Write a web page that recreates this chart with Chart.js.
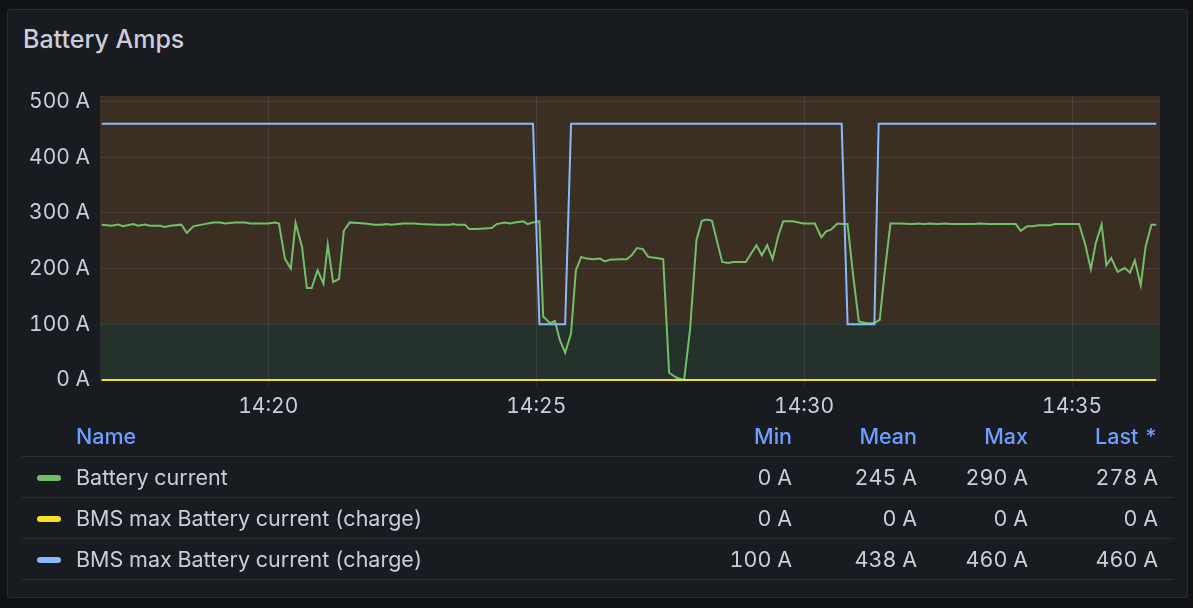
<!DOCTYPE html>
<html>
<head>
<meta charset="utf-8">
<script src="https://cdn.jsdelivr.net/npm/chart.js@4"></script>
<style>
  html, body { margin: 0; padding: 0; background: #111217; }
  body { width: 1193px; height: 608px; position: relative; overflow: hidden; font-family: Inter, "Open Sans", sans-serif; font-feature-settings: "tnum"; }
  .panel { position: absolute; left: 7px; top: 9px; width: 1181px; height: 589px; background: #181b1f; border: 1px solid #2a2d33; border-radius: 3px; box-sizing: border-box; }
  .title { position: absolute; left: 23px; top: 27px; font-size: 25px; line-height: 1; font-weight: 500; color: #ccccdc; font-feature-settings: normal; }
  #chartWrap { position: absolute; left: 0; top: 0; width: 1193px; height: 420px; }
  table.legend { position: absolute; left: 22px; top: 415px; width: 1152px; border-collapse: collapse; table-layout: fixed; font-size: 21.5px; color: #ccccdc; }
  table.legend th { color: #6e9fff; font-weight: 500; height: 41px; text-align: right; padding: 0 16px 0 0; border-bottom: 1px solid #2c3036; }
  table.legend th.name { text-align: left; padding-left: 54px; }
  table.legend td { height: 40px; text-align: right; padding: 0 16px 0 0; border-bottom: 1px solid #2c3036; white-space: nowrap; }
  table.legend td.name { text-align: left; padding-left: 15px; }
  .swatch { display: inline-block; width: 24px; height: 6px; border-radius: 3px; vertical-align: middle; margin-right: 15px; position: relative; top: -1px; }
</style>
</head>
<body>
<div class="panel"></div>
<div class="title">Battery Amps</div>
<div id="chartWrap"><canvas id="ampsChart"></canvas></div>
<table class="legend" id="legendTable">
  <colgroup><col style="width:658px"><col style="width:128px"><col style="width:125px"><col style="width:111px"><col style="width:130px"></colgroup>
  <thead><tr><th class="name">Name</th><th>Min</th><th>Mean</th><th>Max</th><th>Last *</th></tr></thead>
  <tbody></tbody>
</table>
<script>
// time axis in minutes past 14:00
const xMin = 16.86;
const xMax = 36.64;
const timeTicks = [20, 25, 30, 35];
const ampTicks = [0, 100, 200, 300, 400, 500];
const thresholdAmps = 100;

// Battery current
const currentMinutes = [16.89,17.08,17.20,17.29,17.48,17.57,17.70,17.79,17.98,18.07,
  18.17,18.38,18.48,18.60,18.76,18.97,19.10,19.19,19.38,19.57,
  19.66,20.00,20.12,20.20,20.31,20.42,20.51,20.63,20.72,20.81,
  20.92,21.03,21.11,21.21,21.32,21.41,21.52,21.80,21.99,22.12,
  22.21,22.30,22.52,22.71,22.83,23.14,23.39,23.45,23.51,23.67,
  23.75,23.89,24.17,24.26,24.42,24.51,24.60,24.76,24.84,24.94,
  25.06,25.13,25.26,25.35,25.44,25.54,25.65,25.74,25.84,25.94,
  26.06,26.19,26.28,26.37,26.56,26.69,26.78,26.88,26.99,27.09,
  27.25,27.37,27.48,27.62,27.76,27.87,27.99,28.09,28.18,28.28,
  28.47,28.58,28.68,28.91,29.11,29.21,29.31,29.41,29.52,29.61,
  29.79,29.98,30.20,30.32,30.41,30.50,30.62,30.72,30.81,30.91,
  31.02,31.16,31.30,31.41,31.50,31.61,31.79,32.02,32.13,32.23,
  32.35,32.47,32.64,32.75,33.15,33.29,33.43,33.95,34.04,34.16,
  34.27,34.37,34.59,34.68,35.13,35.24,35.35,35.44,35.55,35.64,
  35.73,35.85,35.98,36.08,36.17,36.28,36.37,36.48,36.57];
const currentAmps = [279,277,279,276,280,277,279,277,277,275,
  277,279,264,276,279,283,283,281,283,283,
  281,281,283,281,218,200,282,239,165,165,
  197,173,243,176,181,268,283,281,279,279,
  280,279,281,281,280,279,279,280,279,279,
  271,271,273,280,283,281,283,285,280,283,
  285,114,102,106,72,49,84,197,221,218,
  217,218,213,216,217,217,224,237,235,221,
  219,217,13,4,0,90,251,286,288,286,
  212,210,212,212,242,224,242,217,260,285,
  285,281,281,256,267,270,281,280,280,191,
  105,102,102,108,191,281,281,280,281,280,
  281,280,281,280,280,281,280,280,268,276,
  276,278,278,280,280,245,199,245,279,206,
  219,194,201,193,215,170,239,279,279];

// BMS max charge current (yellow, zero)
const zeroMinutes = [16.89, 36.57];
const zeroAmps = [0, 0];

// BMS max charge current (blue)
const limitMinutes = [16.89, 24.94, 25.06, 25.54, 25.65, 30.70, 30.81, 31.31, 31.39, 36.57];
const limitAmps = [460, 460, 100, 100, 460, 460, 100, 100, 460, 460];

// legend table
const legendNames = ['Battery current', 'BMS max Battery current (charge)', 'BMS max Battery current (charge)'];
const legendColors = ['#73BF69', '#FADE2A', '#8AB8FF'];
const legendMin = ['0 A', '0 A', '100 A'];
const legendMean = ['245 A', '0 A', '438 A'];
const legendMax = ['290 A', '0 A', '460 A'];
const legendLast = ['278 A', '0 A', '460 A'];

function toPoints(xs, ys) {
    return xs.map((x, i) => ({x: x, y: ys[i]}));
}

// Threshold regions behind the grid
const thresholdFill = {
    id: 'thresholdFill',
    beforeDraw(chart) {
        const {ctx, chartArea} = chart;
        const yScale = chart.scales.y;
        const yT = yScale.getPixelForValue(thresholdAmps);
        ctx.save();
        ctx.fillStyle = '#3b2f24';
        ctx.fillRect(chartArea.left, chartArea.top, chartArea.right - chartArea.left, yT - chartArea.top);
        ctx.fillStyle = '#25322b';
        ctx.fillRect(chartArea.left, yT, chartArea.right - chartArea.left, chartArea.bottom - yT);
        ctx.restore();
    }
};

const gridColor = 'rgba(204, 204, 220, 0.1)';

new Chart(document.getElementById('ampsChart'), {
    type: 'line',
    data: {
        datasets: [
            {
                label: legendNames[0],
                data: toPoints(currentMinutes, currentAmps),
                borderColor: legendColors[0],
                borderWidth: 2,
                pointRadius: 0,
                tension: 0,
                clip: 4,
                order: 3
            },
            {
                label: legendNames[1],
                data: toPoints(zeroMinutes, zeroAmps),
                borderColor: legendColors[1],
                borderWidth: 2,
                pointRadius: 0,
                clip: 4,
                order: 2
            },
            {
                label: legendNames[2],
                data: toPoints(limitMinutes, limitAmps),
                borderColor: legendColors[2],
                borderWidth: 2,
                pointRadius: 0,
                clip: 4,
                order: 1
            }
        ]
    },
    options: {
        responsive: true,
        maintainAspectRatio: false,
        animation: false,
        layout: {padding: {left: 0, top: 96, right: 33, bottom: 0}},
        plugins: {legend: {display: false}, tooltip: {enabled: false}},
        scales: {
            x: {
                type: 'linear',
                min: xMin,
                max: xMax,
                afterBuildTicks: scale => { scale.ticks = timeTicks.map(v => ({value: v})); },
                afterFit: scale => { scale.height = 40; },
                grid: {color: gridColor, drawTicks: true, tickLength: 6, tickColor: gridColor},
                border: {display: false},
                ticks: {
                    color: '#ccccdc',
                    padding: 8,
                    maxRotation: 0,
                    font: {family: 'Inter', size: 21},
                    callback: v => '14:' + String(v).padStart(2, '0')
                }
            },
            y: {
                min: 0,
                max: 510,
                afterBuildTicks: scale => { scale.ticks = ampTicks.map(v => ({value: v})); },
                afterFit: scale => { scale.width = 100; },
                grid: {color: gridColor, drawTicks: false},
                border: {display: false},
                ticks: {
                    color: '#ccccdc',
                    padding: 10,
                    font: {family: 'Inter', size: 21},
                    callback: v => v + ' A'
                }
            }
        }
    },
    plugins: [thresholdFill]
});

// Legend rows
const tbody = document.querySelector('#legendTable tbody');
legendNames.forEach((name, i) => {
    const tr = document.createElement('tr');
    tr.innerHTML = `<td class="name"><span class="swatch" style="background:${legendColors[i]}"></span>${name}</td>` +
        `<td>${legendMin[i]}</td><td>${legendMean[i]}</td><td>${legendMax[i]}</td><td>${legendLast[i]}</td>`;
    tbody.appendChild(tr);
});
</script>
</body>
</html>
